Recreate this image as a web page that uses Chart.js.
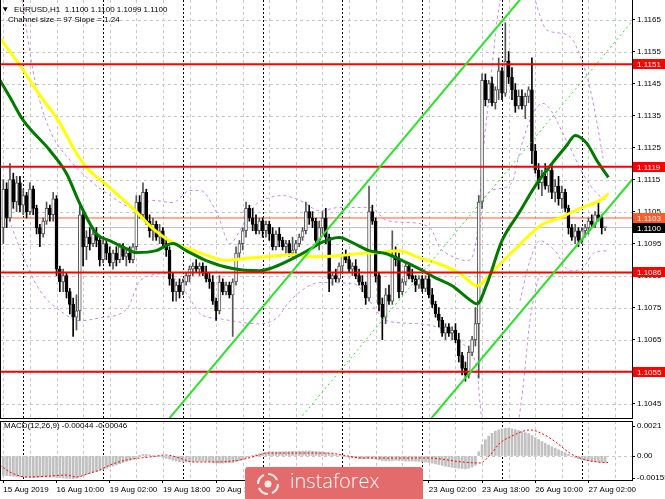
<!DOCTYPE html>
<html>
<head>
<meta charset="utf-8">
<script src="https://cdn.jsdelivr.net/npm/chart.js@4.4.1/dist/chart.umd.min.js"></script>
<style>
html, body { margin: 0; padding: 0; background: #fff; }
#wrap { position: relative; width: 665px; height: 499px; overflow: hidden; }
#main { position: absolute; left: 0; top: 0; }
#macd { position: absolute; left: 0; top: 419px; }
#logo { position: absolute; left: 245px; top: 467px; width: 178px; height: 32px; background: #e36b6b; border-radius: 3px 3px 0 0; }
#logo svg { position: absolute; left: 10px; top: 4px; }
#logo span { position: absolute; left: 45px; top: 0px; color: #fff; font: 300 20px "Open Sans", sans-serif; }
</style>
</head>
<body>
<div id="wrap">
  <canvas id="main" width="665" height="419"></canvas>
  <canvas id="macd" width="665" height="80"></canvas>
  <div id="logo">
    <svg width="26" height="26" viewBox="0 0 26 26"><g fill="none" stroke="#f4eaea" stroke-width="2.2"><path d="M13 3 a10 10 0 0 1 9 6"/><path d="M23 13 a10 10 0 0 1 -6 9"/><path d="M13 23 a10 10 0 0 1 -9 -6"/><path d="M3 13 a10 10 0 0 1 6 -9"/></g><circle cx="13" cy="13" r="3.5" fill="#f4eaea"/></svg>
    <span>instaforex</span>
  </div>
</div>
<script>
// EURUSD H1 bars, 15 Aug 18:00 .. 27 Aug 07:00
const opens = [
  1.1100,1.1112,1.1103,1.1115,1.1108,1.1114,1.1107,1.1110,1.1105,1.1112,
  1.1106,1.1100,1.1098,1.1102,1.1106,1.1104,1.1109,1.1087,1.1083,1.1085,
  1.1080,1.1076,1.1072,1.1074,1.1104,1.1094,1.1097,1.1095,1.1098,1.1096,
  1.1090,1.1095,1.1092,1.1089,1.1092,1.1090,1.1094,1.1091,1.1092,1.1090,
  1.1094,1.1108,1.1104,1.1111,1.1102,1.1099,1.1101,1.1097,1.1099,1.1095,
  1.1093,1.1084,1.1080,1.1082,1.1080,1.1083,1.1085,1.1087,1.1088,1.1087,
  1.1088,1.1086,1.1084,1.1083,1.1077,1.1074,1.1083,1.1080,1.1082,1.1079,
  1.1083,1.1092,1.1095,1.1099,1.1106,1.1103,1.1101,1.1099,1.1102,1.1099,
  1.1101,1.1098,1.1094,1.1098,1.1096,1.1094,1.1095,1.1092,1.1093,1.1095,
  1.1097,1.1099,1.1105,1.1103,1.1102,1.1096,1.1100,1.1103,1.1097,1.1084,
  1.1085,1.1084,1.1088,1.1091,1.1090,1.1087,1.1088,1.1085,1.1083,1.1082,
  1.1078,1.1105,1.1102,1.1085,1.1076,1.1072,1.1079,1.1077,1.1091,1.1090,
  1.1080,1.1083,1.1088,1.1085,1.1084,1.1082,1.1084,1.1081,1.1084,1.1079,
  1.1076,1.1073,1.1071,1.1067,1.1069,1.1067,1.1068,1.1065,1.1060,1.1056,
  1.1054,1.1061,1.1065,1.1070,1.1108,1.1146,1.1140,1.1145,1.1139,1.1143,
  1.1149,1.1142,1.1152,1.1147,1.1143,1.1138,1.1141,1.1138,1.1141,1.1143,
  1.1124,1.1118,1.1114,1.1116,1.1113,1.1118,1.1111,1.1113,1.1109,1.1111,
  1.1106,1.1100,1.1097,1.1099,1.1096,1.1099,1.1100,1.1102,1.1101,1.1104,
  1.1103,1.1100
];
const highs = [
  1.1115,1.1114,1.1120,1.1117,1.1116,1.1116,1.1112,1.1111,1.1114,1.1113,
  1.1107,1.1101,1.1103,1.1108,1.1107,1.1111,1.1110,1.1088,1.1087,1.1086,
  1.1081,1.1078,1.1079,1.1107,1.1105,1.1099,1.1100,1.1099,1.1100,1.1097,
  1.1096,1.1096,1.1094,1.1093,1.1094,1.1095,1.1095,1.1093,1.1094,1.1095,
  1.1110,1.1110,1.1114,1.1112,1.1104,1.1103,1.1102,1.1101,1.1100,1.1097,
  1.1094,1.1086,1.1083,1.1084,1.1084,1.1086,1.1088,1.1089,1.1090,1.1089,
  1.1089,1.1088,1.1086,1.1085,1.1078,1.1085,1.1084,1.1083,1.1083,1.1084,
  1.1094,1.1096,1.1100,1.1108,1.1107,1.1106,1.1104,1.1103,1.1103,1.1102,
  1.1102,1.1100,1.1099,1.1100,1.1097,1.1096,1.1096,1.1097,1.1096,1.1098,
  1.1100,1.1108,1.1107,1.1105,1.1103,1.1102,1.1105,1.1106,1.1098,1.1086,
  1.1087,1.1089,1.1092,1.1093,1.1091,1.1089,1.1090,1.1087,1.1085,1.1083,
  1.1113,1.1107,1.1103,1.1086,1.1078,1.1081,1.1082,1.1099,1.1094,1.1092,
  1.1084,1.1089,1.1089,1.1087,1.1085,1.1085,1.1085,1.1085,1.1085,1.1081,
  1.1077,1.1075,1.1072,1.1070,1.1070,1.1069,1.1070,1.1067,1.1061,1.1058,
  1.1063,1.1066,1.1075,1.1110,1.1148,1.1148,1.1146,1.1147,1.1144,1.1153,
  1.1150,1.1164,1.1155,1.1150,1.1145,1.1143,1.1143,1.1142,1.1144,1.1153,
  1.1126,1.1120,1.1118,1.1120,1.1119,1.1120,1.1115,1.1116,1.1113,1.1112,
  1.1107,1.1101,1.1101,1.1100,1.1100,1.1101,1.1103,1.1104,1.1105,1.1108,
  1.1104,1.1100
];
const lows = [
  1.1095,1.1100,1.1102,1.1106,1.1105,1.1105,1.1104,1.1103,1.1104,1.1104,
  1.1098,1.1094,1.1097,1.1101,1.1102,1.1102,1.1085,1.1080,1.1080,1.1078,
  1.1073,1.1066,1.1068,1.1071,1.1088,1.1090,1.1093,1.1094,1.1094,1.1088,
  1.1089,1.1090,1.1088,1.1087,1.1088,1.1089,1.1090,1.1088,1.1089,1.1089,
  1.1093,1.1103,1.1103,1.1101,1.1097,1.1096,1.1096,1.1095,1.1094,1.1091,
  1.1082,1.1077,1.1077,1.1078,1.1079,1.1082,1.1083,1.1085,1.1086,1.1085,
  1.1085,1.1083,1.1081,1.1076,1.1071,1.1073,1.1079,1.1079,1.1078,1.1066,
  1.1082,1.1090,1.1093,1.1097,1.1102,1.1099,1.1098,1.1098,1.1097,1.1097,
  1.1096,1.1093,1.1093,1.1094,1.1093,1.1092,1.1091,1.1091,1.1091,1.1094,
  1.1096,1.1098,1.1101,1.1100,1.1094,1.1093,1.1098,1.1095,1.1080,1.1082,
  1.1083,1.1083,1.1086,1.1089,1.1086,1.1085,1.1084,1.1082,1.1080,1.1076,
  1.1077,1.1101,1.1083,1.1074,1.1065,1.1070,1.1076,1.1076,1.1088,1.1078,
  1.1079,1.1082,1.1084,1.1083,1.1080,1.1081,1.1080,1.1080,1.1078,1.1075,
  1.1072,1.1069,1.1066,1.1065,1.1066,1.1065,1.1064,1.1058,1.1054,1.1052,
  1.1053,1.1060,1.1063,1.1053,1.1106,1.1138,1.1139,1.1138,1.1137,1.1140,
  1.1140,1.1141,1.1145,1.1140,1.1136,1.1137,1.1137,1.1134,1.1139,1.1120,
  1.1117,1.1112,1.1110,1.1112,1.1111,1.1109,1.1108,1.1107,1.1106,1.1105,
  1.1098,1.1096,1.1095,1.1094,1.1095,1.1097,1.1098,1.1100,1.1100,1.1102,
  1.1098,1.1099
];
const closes = [
  1.1112,1.1103,1.1115,1.1108,1.1114,1.1107,1.1110,1.1105,1.1112,1.1106,
  1.1100,1.1098,1.1102,1.1106,1.1104,1.1109,1.1087,1.1083,1.1085,1.1080,
  1.1076,1.1072,1.1074,1.1104,1.1094,1.1097,1.1095,1.1098,1.1096,1.1090,
  1.1095,1.1092,1.1089,1.1092,1.1090,1.1094,1.1091,1.1092,1.1090,1.1094,
  1.1108,1.1104,1.1111,1.1102,1.1099,1.1101,1.1097,1.1099,1.1095,1.1093,
  1.1084,1.1080,1.1082,1.1080,1.1083,1.1085,1.1087,1.1088,1.1087,1.1088,
  1.1086,1.1084,1.1083,1.1077,1.1074,1.1083,1.1080,1.1082,1.1079,1.1083,
  1.1092,1.1095,1.1099,1.1106,1.1103,1.1101,1.1099,1.1102,1.1099,1.1101,
  1.1098,1.1094,1.1098,1.1096,1.1094,1.1095,1.1092,1.1093,1.1095,1.1097,
  1.1099,1.1105,1.1103,1.1102,1.1096,1.1100,1.1103,1.1097,1.1084,1.1085,
  1.1084,1.1088,1.1091,1.1090,1.1087,1.1088,1.1085,1.1083,1.1082,1.1078,
  1.1105,1.1102,1.1085,1.1076,1.1072,1.1079,1.1077,1.1091,1.1090,1.1080,
  1.1083,1.1088,1.1085,1.1084,1.1082,1.1084,1.1081,1.1084,1.1079,1.1076,
  1.1073,1.1071,1.1067,1.1069,1.1067,1.1068,1.1065,1.1060,1.1056,1.1054,
  1.1061,1.1065,1.1070,1.1108,1.1146,1.1140,1.1145,1.1139,1.1143,1.1149,
  1.1142,1.1152,1.1147,1.1143,1.1138,1.1141,1.1138,1.1141,1.1143,1.1124,
  1.1118,1.1114,1.1116,1.1113,1.1118,1.1111,1.1113,1.1109,1.1111,1.1106,
  1.1100,1.1097,1.1099,1.1096,1.1099,1.1100,1.1102,1.1101,1.1104,1.1103,
  1.1100,1.1100
];

// moving averages at bar positions
const slowMaBars = [-1, 2, 6, 14, 19, 23, 28, 32, 37, 40, 46, 49, 51, 55, 61, 69, 77, 81, 87, 93, 95, 101, 105, 110, 115, 120, 125, 130, 135, 139.5, 142.5, 145.5, 150, 155, 160.5, 165, 169.5, 172, 175.5, 178.5, 182];
const slowMa = [1.11460, 1.11407, 1.11335, 1.11241, 1.11169, 1.11075, 1.10981, 1.10959, 1.10934, 1.10922, 1.10928, 1.10944, 1.10950, 1.10928, 1.10897, 1.10872, 1.10865, 1.10875, 1.10903, 1.10937, 1.10950, 1.10969, 1.10953, 1.10928, 1.10919, 1.10897, 1.10872, 1.10843, 1.10818, 1.10781, 1.10762, 1.10825, 1.10959, 1.11044, 1.11138, 1.11200, 1.11257, 1.11288, 1.11263, 1.11210, 1.11157];
const fastMaBars = [-1, 5, 11, 16.5, 22, 25, 32, 39, 45, 51, 59, 67, 72, 79, 87, 94, 101, 107, 113, 119, 125, 131, 137.5, 142.5, 145.5, 149.5, 153.5, 157.5, 161.5, 167.5, 173.5, 179.5, 182];
const fastMa = [1.11592, 1.11507, 1.11413, 1.11335, 1.11232, 1.11188, 1.11125, 1.11060, 1.10997, 1.10953, 1.10922, 1.10897, 1.10903, 1.10909, 1.10915, 1.10909, 1.10912, 1.10919, 1.10922, 1.10928, 1.10906, 1.10887, 1.10856, 1.10818, 1.10843, 1.10887, 1.10928, 1.10969, 1.11006, 1.11031, 1.11060, 1.11085, 1.11106];

// bands (violet dashed)
const bandUpBars1 = [5.6, 9.5, 14, 20.1, 26.1, 32.1, 39, 45, 51, 56.1, 59.2, 64.3, 68.2, 71.2, 75.7, 79.3, 84.1, 89.2, 95.2, 101.3, 110.3, 115.4, 121.4, 128.3, 131.3, 133.4, 139.5, 142.5, 144.3, 146.4, 148.5, 150];
const bandUp1 = [1.11711, 1.11460, 1.11304, 1.11210, 1.11147, 1.11100, 1.11063, 1.11085, 1.11078, 1.11116, 1.11116, 1.11044, 1.10950, 1.10991, 1.11069, 1.11091, 1.11100, 1.11085, 1.11053, 1.11063, 1.11063, 1.11022, 1.11016, 1.11000, 1.10937, 1.10919, 1.10897, 1.10981, 1.11232, 1.11438, 1.11648, 1.11742];
const bandUpBars2 = [159, 163.5, 167.4, 171.3, 174.3, 176.4, 178.6, 180.4];
const bandUp2 = [1.11742, 1.11617, 1.11608, 1.11586, 1.11514, 1.11438, 1.11326, 1.11216];
const bandLoBars1 = [-1, 2.9, 6.5, 11, 17.1, 23.1, 29.1, 37.2, 41.1, 49.2, 55.2, 59.2, 65.2, 77.2, 82.3, 86.2, 95.2, 105.2, 115.4, 125.3, 133.4, 138.3, 142.5, 143.4, 144.6];
const bandLo1 = [1.11094, 1.10991, 1.10897, 1.10803, 1.10740, 1.10709, 1.10718, 1.10746, 1.10834, 1.10856, 1.10793, 1.10731, 1.10715, 1.10699, 1.10718, 1.10771, 1.10828, 1.10825, 1.10709, 1.10699, 1.10677, 1.10637, 1.10552, 1.10449, 1.10333];
const bandLoBars2 = [154.2, 156.3, 158.4, 161.4];
const bandLo2 = [1.10333, 1.10499, 1.10709, 1.10865];
const envUpBars = [143.4, 144.3, 149.4, 153.3, 154.5, 156.3, 159.3, 162.3, 165.3, 168.3, 171.3, 174.3, 178.6, 181.6];
const envUp = [1.11000, 1.11085, 1.11122, 1.11147, 1.11200, 1.11272, 1.11357, 1.11388, 1.11357, 1.11294, 1.11232, 1.11169, 1.11106, 1.11085];
const envLoBars = [155.4, 158.4, 161.4, 165.9, 170.4, 174, 177.9, 181.9];
const envLo = [1.10771, 1.10897, 1.10959, 1.10928, 1.10865, 1.10872, 1.10922, 1.10928];

// equidistant channel: two anchor points per line
const chanUpBars = [50, 160];
const chanUp = [1.10405, 1.11769];
const chanMidBars = [89, 190];
const chanMid = [1.10400, 1.11655];
const chanLoBars = [128, 190];
const chanLo = [1.10395, 1.11160];

// horizontal levels
const redLevels = [1.1151, 1.1119, 1.1086, 1.1055];
const askLevel = 1.1103;
const bidLevel = 1.1100;

// MACD(12,26,9)
const macdHist = [
  -0.00135,-0.00138,-0.0014,-0.00142,-0.00145,-0.00146,-0.00148,-0.0015,
  -0.00152,-0.00153,-0.00152,-0.0015,-0.00148,-0.00149,-0.0015,-0.00148,
  -0.0015,-0.00153,-0.00155,-0.00157,-0.00158,-0.0016,-0.00156,-0.00148,
  -0.00138,-0.0013,-0.00122,-0.00115,-0.00108,-0.00102,-0.00095,-0.00086,
  -0.00078,-0.0007,-0.00062,-0.00054,-0.00046,-0.00038,-0.0003,-0.00022,
  -0.0001,0.00002,0.0001,0.00012,0.00008,0.00003,-0.00002,-0.00006,
  -0.0001,-0.00015,-0.00022,-0.0003,-0.00035,-0.0004,-0.00042,-0.00043,
  -0.00042,-0.0004,-0.00038,-0.00036,-0.00037,-0.00038,-0.0004,-0.00044,
  -0.00048,-0.0005,-0.0005,-0.00048,-0.00048,-0.00046,-0.0004,-0.00032,
  -0.00024,-0.00015,-0.00006,0.00002,0.0001,0.00016,0.00022,0.00026,
  0.00029,0.0003,0.0003,0.0003,0.00031,0.00032,0.00032,0.00033,
  0.00033,0.00034,0.00035,0.00036,0.00036,0.00034,0.00032,0.0003,
  0.00028,0.00024,0.00018,0.00013,0.00008,0.00004,0,-0.00004,
  -0.00008,-0.00012,-0.00015,-0.00018,-0.0002,-0.00018,-0.00015,-0.00018,
  -0.00022,-0.00028,-0.00032,-0.00034,-0.00035,-0.00032,-0.0003,-0.00032,
  -0.00034,-0.00035,-0.00036,-0.00036,-0.00037,-0.00038,-0.0004,-0.00042,
  -0.00046,-0.0005,-0.00055,-0.0006,-0.00066,-0.00072,-0.00076,-0.0008,
  -0.00083,-0.00086,-0.00088,-0.0009,-0.00086,-0.00078,-0.00065,0.0003,
  0.0008,0.00115,0.0014,0.0016,0.00175,0.00185,0.0019,0.00195,
  0.00195,0.00192,0.00186,0.0018,0.00172,0.00165,0.00158,0.00145,
  0.0013,0.00116,0.00102,0.0009,0.00078,0.00066,0.00055,0.00044,
  0.00034,0.00024,0.00012,0,-0.0001,-0.00018,-0.00025,-0.0003,
  -0.00034,-0.00038,-0.0004,-0.00042,-0.00043,-0.00044
];
const signalBars = [-1, 2, 7, 14, 19, 22, 26, 29, 32, 37, 44, 49, 53, 57, 64, 71, 77, 79, 89, 98, 102, 108, 118, 128, 138, 143.4, 146.4, 149.4, 152.4, 158.4, 162.9, 166.5, 170.4, 173.4, 178.6, 181.9];
const signal = [-0.00064, -0.00113, -0.00148, -0.00141, -0.00134, -0.00148, -0.0012, -0.00099, -0.00064, -0.00028, -0.00007, 0.00007, -0.00014, -0.00042, -0.00042, -0.00028, 0.00007, 0.00021, 0.00021, 0.00021, 0.00007, -0.00014, -0.00014, -0.00014, -0.00042, -0.00049, 0.00007, 0.00092, 0.00134, 0.00184, 0.00148, 0.00092, 0.00021, -0.00014, -0.00042, -0.00046];

// axes
const priceTicks = [1.1045, 1.1055, 1.1065, 1.1075, 1.1085, 1.1095, 1.1105, 1.1115, 1.1125, 1.1135, 1.1145, 1.1155, 1.1165];
const timeTickBars = [0, 16, 32, 48, 64, 80, 96, 112, 128, 144, 160, 176];
const timeLabels = ['15 Aug 2019', '16 Aug 10:00', '19 Aug 02:00', '19 Aug 18:00', '20 Aug 10:00', '21 Aug 02:00', '21 Aug 18:00', '22 Aug 10:00', '23 Aug 02:00', '23 Aug 18:00', '26 Aug 10:00', '27 Aug 02:00'];
const gridBars = [0, 8, 16, 24, 32, 40, 48, 56, 64, 72, 80, 88, 96, 104, 112, 120, 128, 136, 144, 152, 160, 168, 176, 184];
const dayStarts = [6, 30, 54, 78, 102, 126, 150, 174];
const macdTicks = [-0.00155, 0, 0.0021];
const macdTickLabels = ['-0.00155', '0.00', '0.0021'];

const X_MIN = -1, X_MAX = 189.1;
Chart.defaults.font.family = '"Liberation Sans", Arial, sans-serif';
Chart.defaults.font.size = 8;
Chart.defaults.color = '#000';

const pts = (xs, ys) => xs.map((x, i) => ({ x: x, y: ys[i] }));
const line = (xs, ys, color, width, dash, order) => ({
  type: 'line', data: pts(xs, ys), borderColor: color, borderWidth: width,
  borderDash: dash || [], pointRadius: 0, cubicInterpolationMode: 'monotone',
  clip: 0, order: order
});

// grid: gray dashed lines + black dotted day separators
const mtGrid = {
  id: 'mtGrid',
  beforeDatasetsDraw(chart, args, opts) {
    const { ctx, chartArea: a } = chart;
    const x = chart.scales.x, y = chart.scales.y;
    ctx.save();
    ctx.beginPath();
    ctx.rect(a.left, a.top, a.right - a.left, a.bottom - a.top);
    ctx.clip();
    ctx.lineWidth = 1;
    ctx.strokeStyle = '#c8c8c8';
    ctx.setLineDash([3, 3]);
    for (const v of opts.levels) {
      const py = Math.round(y.getPixelForValue(v)) + 0.5;
      ctx.beginPath(); ctx.moveTo(a.left, py); ctx.lineTo(a.right, py); ctx.stroke();
    }
    for (const b of gridBars) {
      const px = Math.round(x.getPixelForValue(b)) + 0.5;
      ctx.beginPath(); ctx.moveTo(px, a.top); ctx.lineTo(px, a.bottom); ctx.stroke();
    }
    ctx.strokeStyle = '#000';
    ctx.setLineDash([2, 2]);
    for (const b of dayStarts) {
      const px = Math.round(x.getPixelForValue(b)) + 0.5;
      ctx.beginPath(); ctx.moveTo(px, a.top); ctx.lineTo(px, a.bottom); ctx.stroke();
    }
    ctx.restore();
  },
  afterDraw(chart, args, opts) {
    const { ctx, chartArea: a } = chart;
    ctx.save();
    ctx.strokeStyle = '#000';
    ctx.lineWidth = 1;
    ctx.beginPath();
    ctx.moveTo(a.left + 0.5, a.top); ctx.lineTo(a.left + 0.5, a.bottom);
    if (opts.frameBottom) { ctx.moveTo(a.left, a.bottom - 0.5); ctx.lineTo(a.right, a.bottom - 0.5); }
    if (opts.frameTop) { ctx.moveTo(a.left, a.top + 0.5); ctx.lineTo(a.right, a.top + 0.5); }
    ctx.stroke();
    // text lines in the panel corner
    ctx.fillStyle = '#000';
    ctx.textBaseline = 'middle';
    for (const t of opts.texts) {
      ctx.font = t.font || '8px "Liberation Sans", Arial, sans-serif';
      ctx.fillText(t.text, t.x, t.y);
    }
    // price boxes on the right axis
    const y = chart.scales.y;
    ctx.font = '8px "Liberation Sans", Arial, sans-serif';
    for (const b of opts.boxes) {
      const py = Math.round(y.getPixelForValue(b.v));
      ctx.fillStyle = b.bg;
      ctx.fillRect(a.right + 1, py - 5, 40, 10);
      ctx.fillStyle = b.fg;
      ctx.fillText(b.v.toFixed(4), a.right + 5, py + 0.5);
    }
    ctx.restore();
  }
};
Chart.register(mtGrid);

const bullish = i => closes[i] >= opens[i];

new Chart(document.getElementById('main'), {
  type: 'bar',
  data: {
    datasets: [
      line(chanUpBars, chanUp, '#2be22b', 2, null, 1),
      line(chanLoBars, chanLo, '#2be22b', 2, null, 1),
      line(chanMidBars, chanMid, '#2be22b', 1, [2, 3], 1),
      ...redLevels.map(v => line([X_MIN, X_MAX], [v, v], '#ff0000', 2, null, 2)),
      line(slowMaBars, slowMa, '#007a00', 3, null, 3),
      line(fastMaBars, fastMa, '#ffff00', 3, null, 4),
      {
        type: 'bar', grouped: false, order: 6, minBarLength: 1,
        data: opens.map((o, i) => ({ x: i, y: [o, closes[i]] })),
        barThickness: 3, borderWidth: 1, borderSkipped: false,
        backgroundColor: c => bullish(c.dataIndex) ? '#ffffff' : '#000000',
        borderColor: c => bullish(c.dataIndex) ? '#555555' : '#000000'
      },
      {
        type: 'bar', grouped: false, order: 7,
        data: highs.map((h, i) => ({ x: i, y: [lows[i], h] })),
        barThickness: 1, borderWidth: 0,
        backgroundColor: c => bullish(c.dataIndex) ? '#555555' : '#000000'
      },
      line([X_MIN, X_MAX], [askLevel, askLevel], '#ff5a2a', 1, null, 8),
      line([X_MIN, X_MAX], [bidLevel, bidLevel], '#c0c0c0', 1, null, 8),
      line(bandUpBars1, bandUp1, '#c58be8', 1, [3, 3], 9),
      line(bandUpBars2, bandUp2, '#c58be8', 1, [3, 3], 9),
      line(bandLoBars1, bandLo1, '#c58be8', 1, [3, 3], 9),
      line(bandLoBars2, bandLo2, '#c58be8', 1, [3, 3], 9),
      line(envUpBars, envUp, '#c58be8', 1, [3, 3], 9),
      line(envLoBars, envLo, '#c58be8', 1, [3, 3], 9)
    ]
  },
  options: {
    responsive: false,
    animation: false,
    devicePixelRatio: 1,
    layout: { padding: 0 },
    plugins: {
      legend: { display: false },
      tooltip: { enabled: false },
      mtGrid: {
        levels: priceTicks,
        frameBottom: true,
        texts: [
          { text: '\u25BC', x: 3, y: 9, font: '6px "DejaVu Sans", sans-serif' },
          { text: 'EURUSD,H1  1.1100 1.1100 1.1099 1.1100', x: 14, y: 9.5 },
          { text: 'Channel size = 97 Slope = 1.24', x: 8, y: 20 }
        ],
        boxes: [
          { v: 1.1151, bg: '#ff0000', fg: '#fff' },
          { v: 1.1119, bg: '#ff0000', fg: '#fff' },
          { v: 1.1086, bg: '#ff0000', fg: '#fff' },
          { v: 1.1055, bg: '#ff0000', fg: '#fff' },
          { v: askLevel, bg: '#ff5a2a', fg: '#fff' },
          { v: bidLevel, bg: '#000000', fg: '#fff' }
        ]
      }
    },
    scales: {
      x: { type: 'linear', min: X_MIN, max: X_MAX, offset: false, display: false },
      y: {
        position: 'right', min: 1.10402, max: 1.11711,
        afterFit(s) { s.width = 33; s.paddingTop = 0; s.paddingBottom = 0; },
        afterBuildTicks(s) { s.ticks = priceTicks.map(v => ({ value: v })); },
        ticks: { padding: 2, callback: v => Number(v).toFixed(4) },
        grid: { drawOnChartArea: false, tickLength: 3, color: '#000' },
        border: { color: '#000' }
      }
    }
  }
});

new Chart(document.getElementById('macd'), {
  type: 'bar',
  data: {
    datasets: [
      line(signalBars, signal, '#ff0000', 1, [2, 2], 1),
      {
        type: 'bar', grouped: false, order: 2,
        data: macdHist.map((v, i) => ({ x: i, y: v })),
        barThickness: 2, backgroundColor: '#c0c0c0'
      }
    ]
  },
  options: {
    responsive: false,
    animation: false,
    devicePixelRatio: 1,
    layout: { padding: { top: 2, left: 0, right: 0, bottom: 0 } },
    plugins: {
      legend: { display: false },
      tooltip: { enabled: false },
      mtGrid: {
        levels: [0],
        frameTop: true,
        texts: [{ text: 'MACD(12,26,9) -0.00044 -0.00046', x: 4, y: 7 }],
        boxes: []
      }
    },
    scales: {
      x: {
        type: 'linear', min: X_MIN, max: X_MAX, offset: false, position: 'bottom',
        afterFit(s) { s.height = 19; s.paddingLeft = 0; s.paddingRight = 0; },
        afterBuildTicks(s) { s.ticks = timeTickBars.map(v => ({ value: v })); },
        ticks: { align: 'start', autoSkip: false, maxRotation: 0, padding: 2, callback: (v, i) => timeLabels[i] },
        grid: { drawOnChartArea: false, tickLength: 3, color: '#000', offset: false },
        border: { color: '#000' }
      },
      y: {
        position: 'right', min: -0.00169, max: 0.00247,
        afterFit(s) { s.width = 33; s.paddingTop = 0; s.paddingBottom = 0; },
        afterBuildTicks(s) { s.ticks = macdTicks.map(v => ({ value: v })); },
        ticks: { padding: 2, callback: (v, i) => macdTickLabels[i] },
        grid: { drawOnChartArea: false, tickLength: 3, color: '#000' },
        border: { color: '#000' }
      }
    }
  }
});
</script>
</body>
</html>
